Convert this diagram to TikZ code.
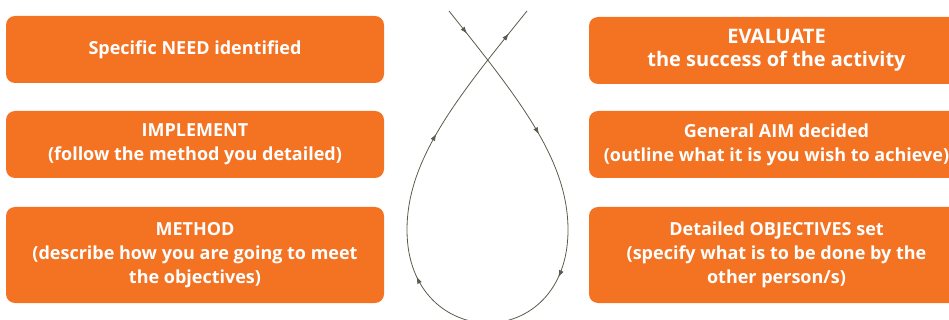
\documentclass[tikz,border=0pt]{standalone}
\usepackage{fontspec}
\setmainfont{Open Sans}
\usetikzlibrary{arrows.meta,decorations.markings}
\definecolor{boxorange}{RGB}{243,115,35}
\definecolor{loopgrey}{RGB}{92,90,76}
\tikzset{
  stagebox/.style={fill=boxorange, rounded corners=9pt, text=white, align=center,
    font=\bfseries\fontsize{18}{24}\selectfont, inner sep=0pt},
  leftbox/.style={stagebox, minimum width=378pt},
  rightbox/.style={stagebox, minimum width=375pt},
  looparrow/.style={decoration={markings,
      mark=at position 0.037 with {\arrow{Latex[length=7pt,width=5pt]}},
      mark=at position 0.195 with {\arrow{Latex[length=7pt,width=5pt]}},
      mark=at position 0.386 with {\arrow{Latex[length=7pt,width=5pt]}},
      mark=at position 0.614 with {\arrow{Latex[length=7pt,width=5pt]}},
      mark=at position 0.805 with {\arrow{Latex[length=7pt,width=5pt]}},
      mark=at position 0.963 with {\arrow{Latex[length=7pt,width=5pt]}}},
    postaction={decorate}}
}
\begin{document}
\begin{tikzpicture}[x=1pt,y=-1pt]
\useasboundingbox (0,0) rectangle (949,320);
\clip (0,0) rectangle (949,320);
% left column
\node[leftbox, minimum height=67pt] (need) at (195,49.5) {Specific NEED identified};
\node[leftbox, minimum height=67pt] (impl) at (195,144.5) {IMPLEMENT\\(follow the method you detailed)};
\node[leftbox, minimum height=96pt] (meth) at (195,255) {METHOD\\(describe how you are going to meet\\the objectives)};
% right column
\node[rightbox, minimum height=67pt, font=\bfseries\fontsize{20}{23}\selectfont] (eval) at (776.5,50.5) {EVALUATE\\the success of the activity};
\node[rightbox, minimum height=67pt] (aim) at (776.5,144.5) {General AIM decided\\(outline what it is you wish to achieve)};
\node[rightbox, minimum height=96pt] (obj) at (776.5,255) {Detailed OBJECTIVES set\\(specify what is to be done by the\\other person/s)};
% loop
\coordinate (start) at (449,11);
\coordinate (rightmost) at (568,230);
\coordinate (bottom) at (488,323);
\coordinate (leftmost) at (407,230);
\coordinate (finish) at (527,11);
\draw[loopgrey, line width=0.8pt, looparrow]
  (start) .. controls (520,100) and (568,160) .. (rightmost)
  .. controls (568,292) and (528,323) .. (bottom)
  .. controls (448,323) and (407,292) .. (leftmost)
  .. controls (407,160) and (455,100) .. (finish);
\end{tikzpicture}
\end{document}
